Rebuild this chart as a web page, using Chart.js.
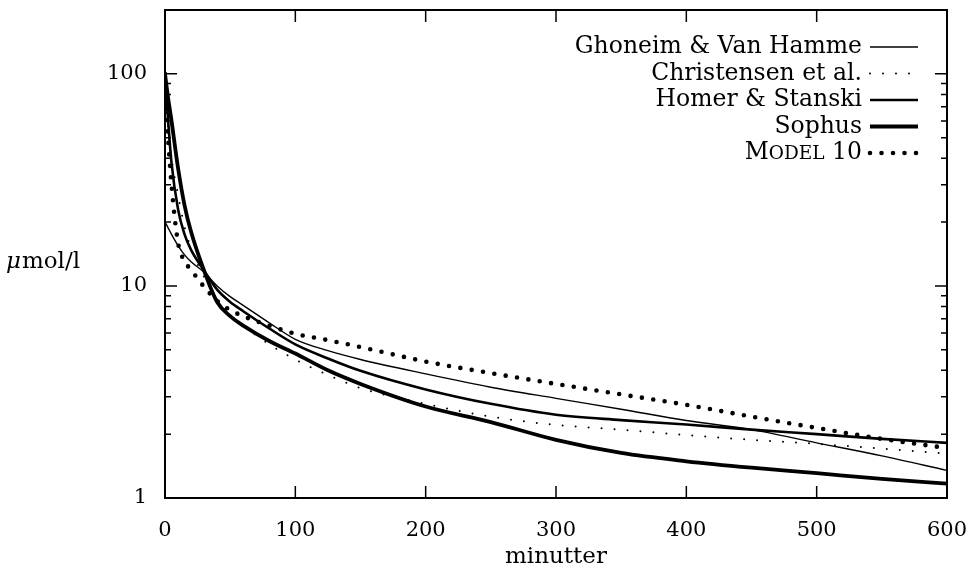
<!DOCTYPE html>
<html lang="da">
<head>
  <meta charset="UTF-8">
  <title>Koncentration</title>
  <script src="https://cdn.jsdelivr.net/npm/chart.js"></script>
  <style>
    body { margin: 0; background: #fff; }
    #wrap { width: 970px; height: 572px; }
  </style>
</head>
<body>
  <div id="wrap"><canvas id="myChart"></canvas></div>

  <script>
    // tid i minutter
    const minutes = [0, 2, 5, 10, 15, 20, 30, 40, 50, 60, 80, 100, 125, 150, 200, 250, 300, 350, 400, 450, 500, 550, 600];

    const ghoneim     = [20, 19, 17.5, 15.5, 14, 13, 11.6, 10.0, 8.9, 8.1, 6.7, 5.6, 4.95, 4.5, 3.85, 3.33, 2.95, 2.62, 2.32, 2.1, 1.82, 1.58, 1.35];
    const christensen = [100, 60, 40, 27, 19, 15, 11, 8.6, 7.3, 6.5, 5.3, 4.5, 3.8, 3.3, 2.78, 2.42, 2.21, 2.1, 1.98, 1.88, 1.8, 1.71, 1.62];
    const horner      = [100, 65, 38, 23, 17.5, 14.8, 11.8, 9.6, 8.4, 7.6, 6.3, 5.3, 4.55, 3.98, 3.25, 2.78, 2.47, 2.33, 2.22, 2.1, 2.0, 1.9, 1.82];
    const sophus      = [100, 80, 60, 36, 24, 18, 11.8, 8.4, 7.2, 6.5, 5.5, 4.8, 4.0, 3.45, 2.7, 2.28, 1.88, 1.63, 1.49, 1.39, 1.31, 1.23, 1.17];
    const model10     = [100, 55, 30, 16, 13.1, 11.9, 9.9, 8.5, 7.7, 7.2, 6.5, 5.95, 5.55, 5.15, 4.4, 3.88, 3.45, 3.08, 2.75, 2.42, 2.14, 1.9, 1.72];

    const seriesNames = ["Ghoneim & Van Hamme", "Christensen et al.", "Homer & Stanski", "Sophus", "Model 10"];
    const xTicks = [0, 100, 200, 300, 400, 500, 600];
    const yTicks = [1, 2, 3, 4, 5, 6, 7, 8, 9, 10, 20, 30, 40, 50, 60, 70, 80, 90, 100, 200];
    const yLabels = [1, 10, 100];

    const FONT = "DejaVu Serif";
    const ink = "#000";

    function pts(ys) { return minutes.map((m, i) => ({ x: m, y: ys[i] })); }

    const styles = [
      { w: 1.4, dash: [], cap: 'butt' },
      { w: 2, dash: [0, 13], cap: 'round' },
      { w: 2.6, dash: [], cap: 'butt' },
      { w: 3.8, dash: [], cap: 'butt' },
      { w: 4.6, dash: [0, 11.5], cap: 'round' }
    ];
    const allSeries = [ghoneim, christensen, horner, sophus, model10];

    const datasets = allSeries.map((ys, i) => ({
      label: seriesNames[i],
      data: pts(ys),
      borderColor: ink,
      borderWidth: styles[i].w,
      borderDash: styles[i].dash,
      borderCapStyle: styles[i].cap,
      pointRadius: 0,
      cubicInterpolationMode: 'monotone',
      fill: false
    }));

    const decor = {
      id: 'decor',
      afterDatasetsDraw(chart) {
        const ctx = chart.ctx;
        const a = chart.chartArea;
        const xs = chart.scales.x, ys = chart.scales.y;
        ctx.save();
        ctx.strokeStyle = ink;
        ctx.fillStyle = ink;
        // ramme
        ctx.lineWidth = 2;
        ctx.strokeRect(a.left, a.top, a.right - a.left, a.bottom - a.top);
        // x-ticks, nederst og øverst
        ctx.lineWidth = 1.5;
        xTicks.forEach(v => {
          const p = xs.getPixelForValue(v);
          ctx.beginPath();
          ctx.moveTo(p, a.bottom); ctx.lineTo(p, a.bottom - 12);
          ctx.moveTo(p, a.top); ctx.lineTo(p, a.top + 12);
          ctx.stroke();
        });
        // y-ticks, venstre og højre
        yTicks.forEach(v => {
          const p = ys.getPixelForValue(v);
          const len = yLabels.includes(v) ? 12 : 6;
          ctx.beginPath();
          ctx.moveTo(a.left, p); ctx.lineTo(a.left + len, p);
          ctx.moveTo(a.right, p); ctx.lineTo(a.right - len, p);
          ctx.stroke();
        });

        // aksetitler
        ctx.textBaseline = 'middle';
        ctx.textAlign = 'center';
        ctx.font = "23px " + FONT;
        ctx.fillText("minutter", (a.left + a.right) / 2, 557);
        ctx.textAlign = 'left';
        ctx.font = "italic 23px " + FONT;
        ctx.fillText("\u03bc", 6, 262);
        const mu = ctx.measureText("\u03bc").width;
        ctx.font = "23px " + FONT;
        ctx.fillText("mol/l", 6 + mu + 1, 262);

        // forklaring
        const textRight = 862, lineL = 870, lineR = 918;
        seriesNames.forEach((name, i) => {
          const y = 47 + i * 26.5;
          ctx.font = "23.5px " + FONT;
          ctx.textAlign = 'right';
          if (name === "Model 10") {
            // kapitæler
            let x = textRight;
            ctx.fillText(" 10", x, y);
            x -= ctx.measureText(" 10").width;
            ctx.font = "18.5px " + FONT;
            ctx.fillText("ODEL", x, y + 1);
            x -= ctx.measureText("ODEL").width;
            ctx.font = "23.5px " + FONT;
            ctx.fillText("M", x, y);
          } else {
            ctx.fillText(name, textRight, y);
          }
          ctx.beginPath();
          ctx.lineWidth = styles[i].w;
          ctx.setLineDash(styles[i].dash);
          ctx.lineCap = styles[i].cap;
          ctx.moveTo(lineL, y); ctx.lineTo(lineR, y);
          ctx.stroke();
          ctx.setLineDash([]);
          ctx.lineCap = 'butt';
        });
        ctx.restore();
      }
    };

    new Chart(document.getElementById("myChart"), {
      type: 'line',
      data: { datasets: datasets },
      options: {
        responsive: true,
        maintainAspectRatio: false,
        animation: false,
        layout: { padding: { top: 10, right: 23, left: 0, bottom: 0 } },
        plugins: { legend: { display: false }, tooltip: { enabled: false }, title: { display: false } },
        scales: {
          x: {
            type: 'linear', min: 0, max: 600,
            afterBuildTicks: s => { s.ticks = xTicks.map(v => ({ value: v })); },
            ticks: { font: { family: FONT, size: 21 }, color: ink, padding: 20, maxRotation: 0 },
            grid: { display: false, drawTicks: false },
            border: { display: false },
            afterFit: s => { s.height = 74; s.paddingLeft = 0; s.paddingRight = 0; }
          },
          y: {
            type: 'logarithmic', min: 1, max: 200,
            afterBuildTicks: s => { s.ticks = yTicks.map(v => ({ value: v })); },
            ticks: {
              font: { family: FONT, size: 21 }, color: ink, padding: 18, autoSkip: false,
              callback: v => yLabels.includes(v) ? String(v) : ''
            },
            grid: { display: false, drawTicks: false },
            border: { display: false },
            afterFit: s => { s.width = 165; s.paddingTop = 0; s.paddingBottom = 0; }
          }
        }
      },
      plugins: [decor]
    });
  </script>
</body>
</html>
